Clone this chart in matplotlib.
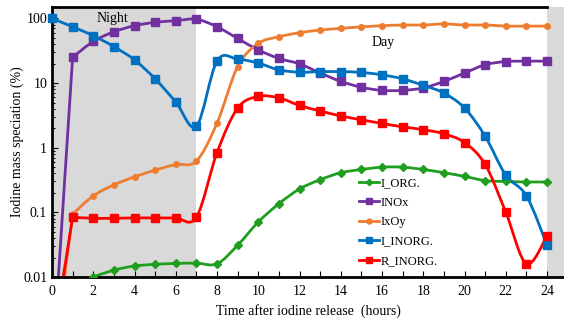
import numpy as np
import matplotlib
matplotlib.use("Agg")
import matplotlib.pyplot as plt
from matplotlib.path import Path
from matplotlib.patches import PathPatch
from matplotlib.lines import Line2D
from matplotlib.ticker import MultipleLocator, LogLocator, NullFormatter

plt.rcParams["font.family"] = "Liberation Serif"

hours = list(range(25))

# values (%), None = below the axis / not drawn
i_org = [None, None, 0.010, 0.0128, 0.0148, 0.0157, 0.0162, 0.0164, 0.016,
         0.031, 0.071, 0.136, 0.23, 0.32, 0.41, 0.46, 0.50, 0.50, 0.46,
         0.41, 0.36, 0.31, 0.30, 0.295, 0.295]
inox = [0.0003, 25, 44, 62, 77, 87, 92, 97, 74, 49, 32.5, 24, 19.8, 14.3,
        10.6, 8.6, 7.7, 7.7, 8.4, 10.6, 14.3, 19.2, 21.5, 21.8, 21.8]
ixoy = [0.0003, 0.094, 0.18, 0.266, 0.354, 0.45, 0.55, 0.62, 2.4, 18, 41,
        52, 60, 66, 70, 74, 77, 79, 79, 82, 79, 79, 76, 76, 76]
i_inorg = [100, 74, 54, 36.6, 22.8, 11.6, 5.1, 2.15, 22, 23.4, 20.3, 16,
           14.7, 15, 15, 14.6, 13.4, 11.6, 9.2, 7.0, 4.1, 1.5, 0.375, 0.18,
           0.031]
r_inorg = [0.0008, 0.084, 0.081, 0.081, 0.082, 0.082, 0.082, 0.084, 0.84,
           4.1, 6.2, 5.9, 4.5, 3.7, 3.1, 2.7, 2.37, 2.1, 1.9, 1.64, 1.2,
           0.55, 0.10, 0.016, 0.043]

series = [
    ("I_ORG.", i_org, "#1f9e1f", "D", 3.6),
    ("INOx", inox, "#7030a0", "s", 5.5),
    ("IxOy", ixoy, "#ed7d31", "o", 4.0),
    ("I_INORG.", i_inorg, "#0070c0", "s", 5.5),
    ("R_INORG.", r_inorg, "#ff0000", "s", 5.5),
]
YMIN = 0.01


def smooth_path(xs, ys):
    # Excel-like smoothed line: cubic Bezier segments built in (x, log y);
    # points below the axis are joined with a straight lead-in
    pts = [(x, np.log10(y)) for x, y in zip(xs, ys) if y is not None]
    p = np.array(pts)
    lead = []
    while len(p) > 1 and p[0, 1] < np.log10(YMIN):
        lead.append(p[0])
        p = p[1:]
    n = len(p)
    verts, codes = [], []
    for q in lead:
        verts.append(q)
        codes.append(Path.MOVETO if not codes else Path.LINETO)
    verts.append(p[0])
    codes.append(Path.MOVETO if not codes else Path.LINETO)
    for i in range(n - 1):
        p0 = p[i - 1] if i > 0 else p[i]
        p3 = p[i + 2] if i + 2 < n else p[i + 1]
        c1 = p[i] + (p[i + 1] - p0) / 6
        c2 = p[i + 1] - (p3 - p[i]) / 6
        verts += [c1, c2, p[i + 1]]
        codes += [Path.CURVE4] * 3
    v = np.array(verts, dtype=float)
    v[:, 1] = 10 ** v[:, 1]
    return Path(v, codes)


fig = plt.figure(figsize=(5.64, 3.22), dpi=100)
ax = fig.add_axes([52 / 564, 1 - 277 / 322, 512 / 564, 270 / 322])
ax.set_yscale("log")
ax.set_xlim(0, 24.82)
ax.set_ylim(YMIN, 150)

# night shading
ax.axvspan(0, 7, color="#d9d9d9", lw=0, zorder=0)
ax.axvspan(24, 24.82, color="#d9d9d9", lw=0, zorder=0)

for label, vals, color, marker, ms in series:
    ax.add_patch(PathPatch(smooth_path(hours, vals), facecolor="none",
                           edgecolor=color, lw=2, zorder=2))
    xs = [h for h, v in zip(hours, vals) if v is not None]
    ys = [v for v in vals if v is not None]
    ax.plot(xs, ys, linestyle="none", marker=marker, ms=ms, color=color,
            zorder=3, clip_on=(label != "I_INORG."))

ax.text(2.95, 100, "Night", ha="center", va="center", fontsize=10)
ax.text(16.05, 42, "Day", ha="center", va="center", fontsize=10)

ax.set_xticks(range(0, 25, 2))
ax.xaxis.set_minor_locator(MultipleLocator(1))
ax.set_yticks([0.01, 0.1, 1, 10, 100])
ax.set_yticklabels(["0.01", "0.1", "1", "10", "100"])
ax.yaxis.set_minor_locator(LogLocator(base=10, subs=np.arange(2, 10)))
ax.yaxis.set_minor_formatter(NullFormatter())
ax.tick_params(axis="both", which="both", direction="in", labelsize=10,
               width=0.8)
ax.tick_params(axis="both", which="major", length=4)
ax.tick_params(axis="both", which="minor", length=2.5)
ax.tick_params(axis="x", which="minor", length=4)
ax.tick_params(axis="x", pad=6)

for s in ["top", "bottom", "left"]:
    ax.spines[s].set_linewidth(2)
ax.spines["top"].set_bounds(0, 24)
ax.spines["right"].set_visible(False)

ax.set_xlabel("Time after iodine release  (hours)", fontsize=10, labelpad=4)
ax.set_ylabel("Iodine mass speciation (%)", fontsize=10, labelpad=-1)

handles = [Line2D([0], [0], color=c, lw=2, marker=m, ms=ms * 0.9)
           for _, _, c, m, ms in series]
ax.legend(handles, [s[0] for s in series], loc="upper left",
          bbox_to_anchor=(0.60, 0.37), frameon=False, fontsize=9,
          handlelength=1.6, handletextpad=0.1, labelspacing=0.6,
          borderpad=0, borderaxespad=0)

fig.savefig("out.png", dpi=100)
